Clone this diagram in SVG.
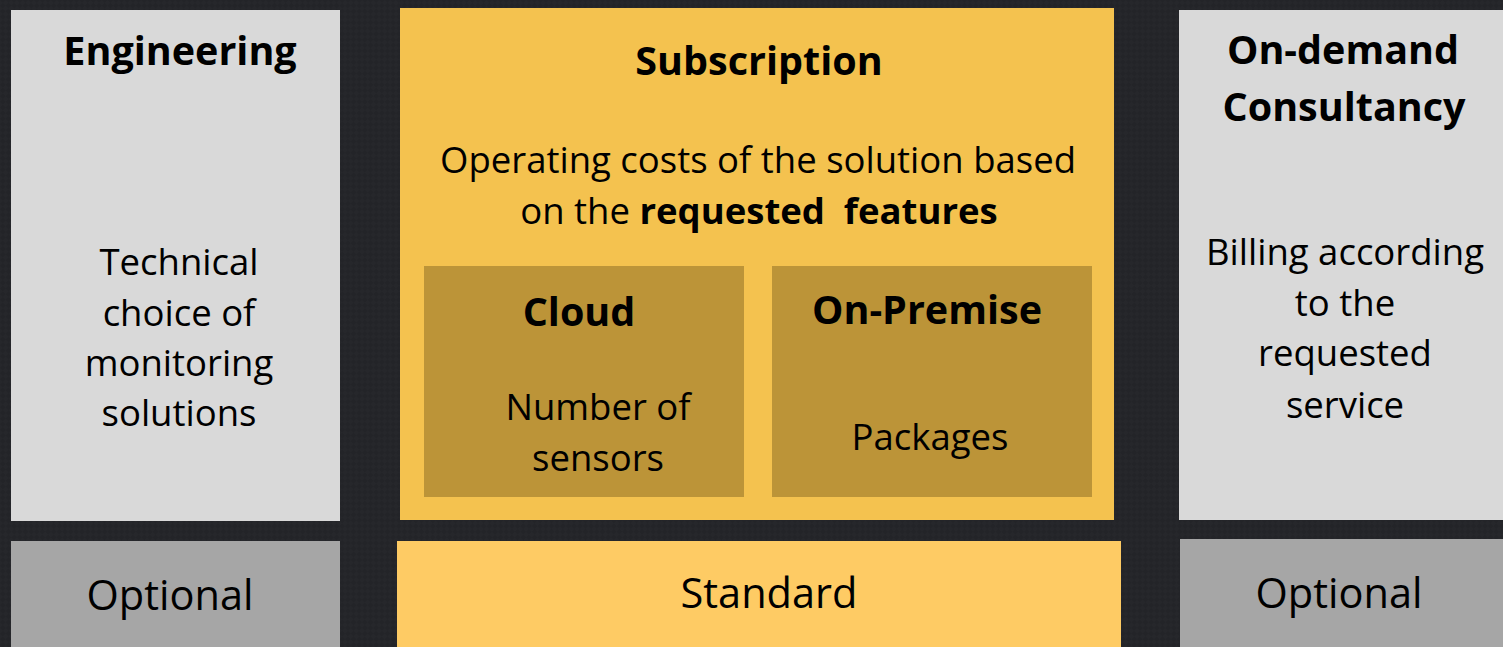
<svg xmlns="http://www.w3.org/2000/svg" width="1503" height="647" viewBox="0 0 1503 647">
<defs>
<pattern id="tex" width="8" height="8" patternUnits="userSpaceOnUse" patternTransform="rotate(45)">
<rect width="8" height="8" fill="#232428"/>
<rect width="4" height="4" fill="#26272b"/>
<rect x="4" y="4" width="4" height="4" fill="#26272b"/>
</pattern>
</defs>
<style>
text{font-family:"Open Sans","Liberation Sans",sans-serif;fill:#000;text-anchor:middle;white-space:pre}
.t{font-size:36.5px}
.b{font-size:39.5px;font-weight:bold}
.o{font-size:41.5px}
.light{fill:#D9D9D9}
.gray{fill:#A6A6A6}
.yel{fill:#F4C24F}
.std{fill:#FECB64}
.inner{fill:#BC9438}
</style>
<rect width="1503" height="647" fill="url(#tex)"/>
<g id="engineering">
<rect class="light" x="11" y="10" width="329" height="511"/>
<text class="b" x="180" y="65">Engineering</text>
<text class="t" x="179" y="275">Technical</text>
<text class="t" x="179" y="326">choice of</text>
<text class="t" x="179" y="376">monitoring</text>
<text class="t" x="179" y="426">solutions</text>
</g>
<g id="subscription">
<rect class="yel" x="400" y="8" width="714" height="512"/>
<text class="b" x="759" y="75">Subscription</text>
<text class="t" x="758" y="173">Operating costs of the solution based</text>
<text class="t" x="759" y="224">on the <tspan font-weight="bold">requested  features</tspan></text>
</g>
<g id="cloud">
<rect class="inner" x="424" y="266" width="320" height="231"/>
<text class="b" x="579" y="326">Cloud</text>
<text class="t" x="598" y="420">Number of</text>
<text class="t" x="598" y="471">sensors</text>
</g>
<g id="onpremise">
<rect class="inner" x="772" y="266" width="320" height="231"/>
<text class="b" x="927" y="324">On-Premise</text>
<text class="t" x="930" y="450">Packages</text>
</g>
<g id="ondemand">
<rect class="light" x="1179" y="10" width="324" height="510"/>
<text class="b" x="1343" y="64">On-demand</text>
<text class="b" x="1344" y="121">Consultancy</text>
<text class="t" x="1345" y="265">Billing according</text>
<text class="t" x="1345" y="316">to the</text>
<text class="t" x="1345" y="366">requested</text>
<text class="t" x="1345" y="418">service</text>
</g>
<g id="optional-left">
<rect class="gray" x="11" y="541" width="329" height="106"/>
<text class="o" x="170" y="610">Optional</text>
</g>
<g id="standard">
<rect class="std" x="397" y="541" width="724" height="106"/>
<text class="o" x="769" y="608">Standard</text>
</g>
<g id="optional-right">
<rect class="gray" x="1180" y="539" width="323" height="108"/>
<text class="o" x="1339" y="608">Optional</text>
</g>
<g id="connectors"/>
</svg>
